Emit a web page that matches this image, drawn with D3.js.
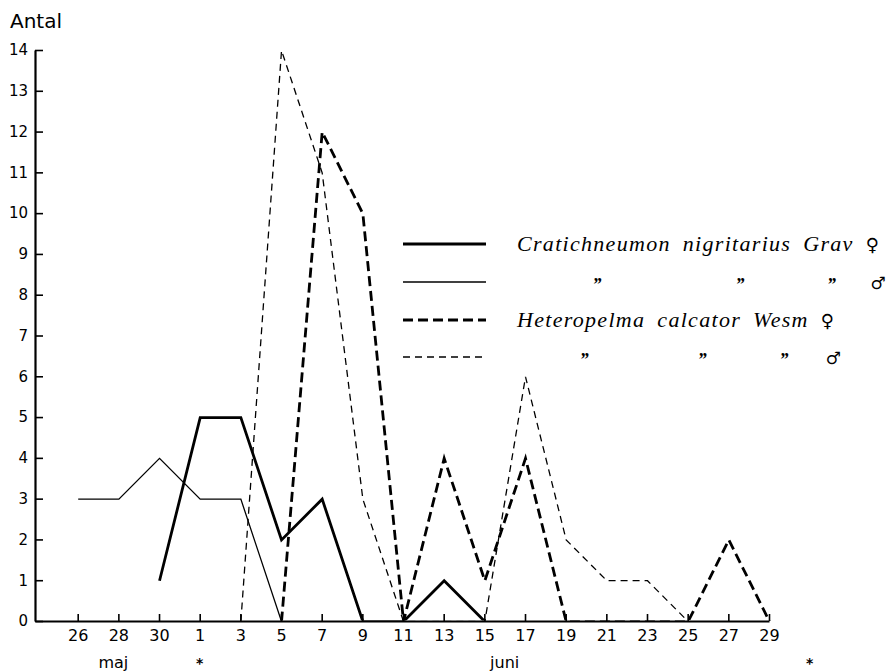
<!DOCTYPE html>
<html>
<head>
<meta charset="utf-8">
<script src="https://cdn.jsdelivr.net/npm/d3@7"></script>
<style>
  body { margin: 0; background: #fff; }
  svg { display: block; }
</style>
</head>
<body>
<script>
// dates, every second day, 26 maj .. 29 juni
var days = ["26", "28", "30", "1", "3", "5", "7", "9", "11", "13", "15", "17", "19", "21", "23", "25", "27", "29"];
var yTicks = [0, 1, 2, 3, 4, 5, 6, 7, 8, 9, 10, 11, 12, 13, 14];

// antal per date (null = no observation drawn)
var cratFemale = [null, null, 1, 5, 5, 2, 3, 0, 0, 1, 0, null, null, null, null, null, null, null];
var cratMale   = [3, 3, 4, 3, 3, 0, null, null, null, null, null, null, null, null, null, null, null, null];
var hetFemale  = [null, null, null, null, null, 0, 12, 10, 0, 4, 1, 4, 0, 0, 0, 0, 2, 0];
var hetMale    = [null, null, null, null, 0, 14, 11, 3, 0, 0, 0, 6, 2, 1, 1, 0, null, null];

var legendRows = [
  { words: ["Cratichneumon", "nigritarius", "Grav", "\u2640"] },
  { ditto: 0, sign: "\u2642" },
  { words: ["Heteropelma", "calcator", "Wesm", "\u2640"] },
  { ditto: 2, sign: "\u2642" }
];

var width = 892;
var height = 672;

var svg = d3.select("body")
    .append("svg")
    .attr("width", width)
    .attr("height", height);

var x = d3.scaleLinear().domain([-1.05, 17]).range([35, 769]);
var y = d3.scaleLinear().domain([0, 14]).range([621, 50]);

var styles = [
  { data: hetMale,    w: 1.3, dash: "7,5" },
  { data: hetFemale,  w: 2.8, dash: "10,5" },
  { data: cratMale,   w: 1.3, dash: null },
  { data: cratFemale, w: 2.8, dash: null }
];

// series stop at the x axis line (zero runs sit under it)
svg.append("clipPath")
    .attr("id", "plot")
  .append("rect")
    .attr("x", 0).attr("y", 0)
    .attr("width", width).attr("height", 620.6);

var line = d3.line()
    .defined(function(d) { return d != null; })
    .x(function(d, i) { return x(i) + 0.5; })
    .y(function(d) { return y(d) + 0.5; });

var lines = svg.append("g").attr("clip-path", "url(#plot)");

styles.forEach(function(s) {
  lines.append("path")
    .attr("d", line(s.data))
    .attr("fill", "none")
    .attr("stroke", "#000")
    .attr("stroke-width", s.w)
    .attr("stroke-linejoin", "miter")
    .attr("stroke-dasharray", s.dash);
});

// axes
var yAxis = d3.axisLeft(y)
    .tickValues(yTicks)
    .tickSizeInner(-8)
    .tickSizeOuter(0)
    .tickPadding(7);

var xAxis = d3.axisBottom(x)
    .tickValues(d3.range(days.length))
    .tickFormat(function(i) { return days[i]; })
    .tickSizeInner(-7)
    .tickSizeOuter(0)
    .tickPadding(9);

var gy = svg.append("g")
    .attr("transform", "translate(35,0)")
    .call(yAxis);

var gx = svg.append("g")
    .attr("transform", "translate(0,621)")
    .call(xAxis);

[gx, gy].forEach(function(g) {
  g.selectAll("path.domain").attr("stroke-width", 2.2);
  g.selectAll(".tick line").attr("stroke-width", 1.6);
  g.selectAll("text")
    .attr("font-family", "DejaVu Sans")
    .attr("font-size", 15)
    .attr("fill", "#000");
});
gx.selectAll("text").attr("font-size", 16);

svg.append("text")
    .attr("x", 10)
    .attr("y", 28)
    .attr("font-family", "DejaVu Sans")
    .attr("font-size", 20)
    .text("Antal");

svg.append("text")
    .attr("x", (x(0) + x(2)) / 2 - 5)
    .attr("y", 668)
    .attr("font-family", "DejaVu Sans")
    .attr("font-size", 16)
    .attr("text-anchor", "middle")
    .text("maj");

svg.append("text")
    .attr("x", (x(10) + x(11)) / 2)
    .attr("y", 668)
    .attr("font-family", "DejaVu Sans")
    .attr("font-size", 16)
    .attr("text-anchor", "middle")
    .text("juni");

[x(3), x(18)].forEach(function(px) {
  svg.append("text")
    .attr("x", px)
    .attr("y", 668)
    .attr("font-family", "DejaVu Sans")
    .attr("font-weight", "bold")
    .attr("font-size", 14)
    .attr("text-anchor", "middle")
    .text("*");
});

// legend
var legendY = [244, 282, 320, 357];
var wordCenters = {};
legendRows.forEach(function(r, k) {
  var st = styles[3 - k];
  svg.append("line")
    .attr("x1", 403).attr("x2", 486)
    .attr("y1", legendY[k]).attr("y2", legendY[k])
    .attr("stroke", "#000")
    .attr("stroke-width", st.w)
    .attr("stroke-dasharray", st.dash);

  if (r.words) {
    var cx = 517;
    wordCenters[k] = [];
    r.words.forEach(function(w, j) {
      var sign = j == r.words.length - 1;
      var t = svg.append("text")
        .attr("x", cx)
        .attr("y", legendY[k] + 7)
        .attr("font-family", sign ? "DejaVu Sans" : "Liberation Serif")
        .attr("font-style", sign ? "normal" : "italic")
        .attr("font-size", sign ? 18 : 22)
        .attr("letter-spacing", sign ? 0 : 1.3)
        .text(w);
      var len = t.node().getComputedTextLength();
      wordCenters[k].push(cx + len / 2);
      cx += len + 12;
    });
  } else {
    var centers = wordCenters[r.ditto];
    centers.forEach(function(c, j) {
      var last = j == centers.length - 1;
      svg.append("text")
        .attr("x", c + (last ? 6 : 3))
        .attr("y", legendY[k] + (last ? 7 : 9))
        .attr("font-family", last ? "DejaVu Sans" : "Liberation Serif")
        .attr("font-style", last ? "normal" : "italic")
        .attr("font-weight", "bold")
        .attr("font-size", last ? 17 : 18)
        .attr("text-anchor", "middle")
        .text(last ? r.sign : "\u201D");
    });
  }
});
</script>
</body>
</html>
